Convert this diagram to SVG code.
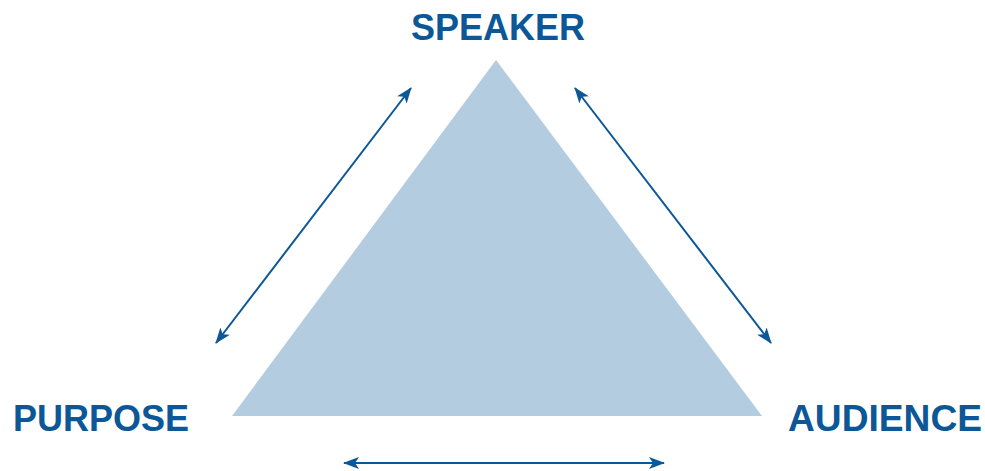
<svg xmlns="http://www.w3.org/2000/svg" width="985" height="471" viewBox="0 0 985 471">
<defs>
<style>
.lbl{font-family:"Liberation Sans",Arial,sans-serif;font-weight:bold;font-size:36px;fill:#0b5797}
.conn{stroke:#0b5797;stroke-width:2;fill:none;marker-start:url(#ah);marker-end:url(#ah)}
</style>
<marker id="ah" viewBox="0 0 16 12" refX="15" refY="6" markerWidth="16" markerHeight="12" markerUnits="userSpaceOnUse" orient="auto-start-reverse">
<path d="M0,0 L16,6 L0,12 L4,6 Z" fill="#0b5797"/>
</marker>
</defs>
<rect width="985" height="471" fill="#ffffff"/>
<g id="triangle"><polygon points="496,60 232,416 762,416" fill="#b4cce0"/></g>
<g id="speaker"><text class="lbl" x="498" y="40" text-anchor="middle">SPEAKER</text></g>
<g id="purpose"><text class="lbl" x="101" y="431" text-anchor="middle">PURPOSE</text></g>
<g id="audience"><text class="lbl" x="885" y="431" text-anchor="middle" textLength="194" lengthAdjust="spacingAndGlyphs">AUDIENCE</text></g>
<g id="connectors">
<line class="conn" x1="216" y1="343" x2="411" y2="88"/>
<line class="conn" x1="575" y1="88" x2="771" y2="343"/>
<line class="conn" x1="344" y1="463" x2="664" y2="463"/>
</g>
</svg>
